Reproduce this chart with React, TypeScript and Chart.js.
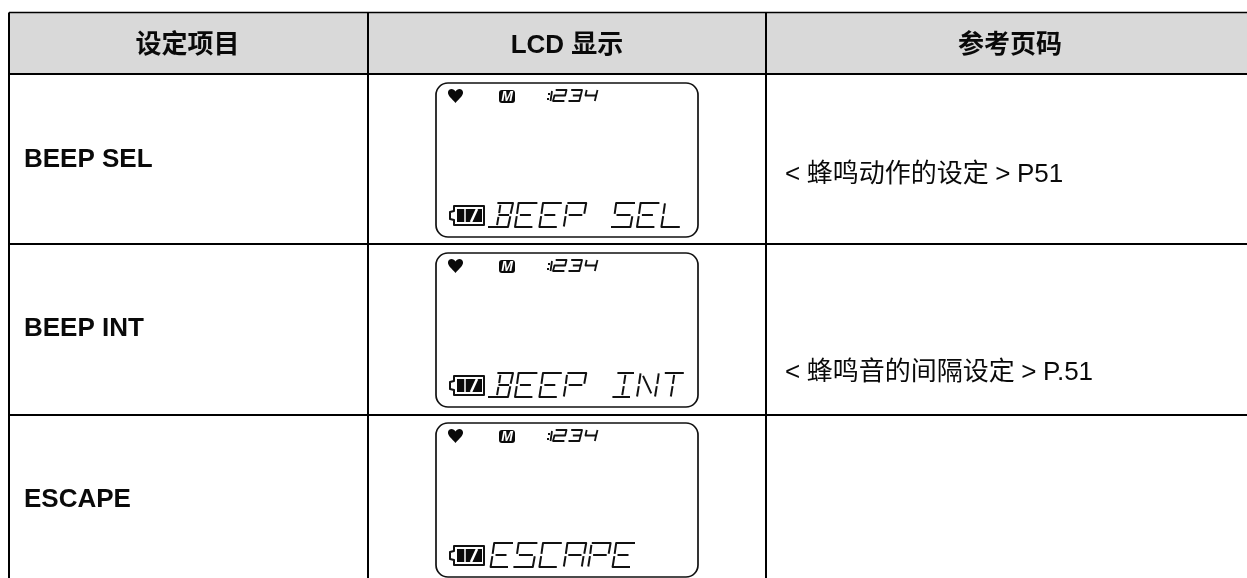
import React, { useEffect, useRef } from "react";
import { Chart, registerables } from "chart.js";

Chart.register(...registerables);

// ---- content ----
const headers = ["设定项目", "LCD 显示", "参考页码"];
const settingItems = ["BEEP SEL", "BEEP INT", "ESCAPE"];
const lcdTexts = ["BEEP SEL", "BEEP INT", "ESCAPE"];
const pageRefs = ["< 蜂鸣动作的设定 > P51", "< 蜂鸣音的间隔设定 > P.51", ""];
const lcdClockDigits = ["2", "3", "4"];

// ---- table geometry in scale units ----
const WIDTH = 1247;
const HEIGHT = 578;
const columnRules = [9, 368, 766];
const rowRules = [74, 244, 415];
const tableTop = 12.5;
const headerCentres = [187.5, 567, 1010];
const headerMiddle = 46;
const itemX = 24;
const itemCentres = [160, 329, 500];
const refX = 785;
const refCentres = [175, 373, 0];
const lcdTops = [83, 253, 423];

// ---- segment font: strokes in a unit box ----
type Stroke = number[];
const SEG: Record<string, Stroke[]> = {
  B: [[0.22, 0, 1, 0, 0.95, 0.45], [0.35, 0.5, 0.88, 0.5], [0.95, 0.55, 0.9, 1, -0.1, 1], [0.38, 0.08, 0.37, 0.42], [0.36, 0.58, 0.34, 0.92]],
  E: [[1, 0, 0.06, 0, 0.05, 0.45], [0.2, 0.5, 0.75, 0.5], [0.05, 0.55, 0.03, 1, 0.9, 1]],
  P: [[0.06, 0, 1, 0, 0.97, 0.45], [0.2, 0.5, 0.88, 0.5], [0.05, 0.08, 0.05, 0.45], [0.05, 0.55, 0.03, 0.98]],
  S: [[1, 0, 0.06, 0, 0.05, 0.45], [0.15, 0.5, 0.85, 0.5], [0.95, 0.55, 0.92, 1, -0.05, 1]],
  L: [[0.06, 0.02, 0.05, 0.45], [0.05, 0.55, 0.03, 1, 0.95, 1]],
  I: [[0.12, 0, 0.95, 0], [0.53, 0.08, 0.52, 0.45], [0.52, 0.55, 0.5, 0.92], [0.02, 1, 0.9, 1]],
  N: [[0.06, 0.02, 0.05, 0.45], [0.05, 0.55, 0.03, 0.98], [0.2, 0.12, 0.72, 0.85], [0.97, 0.02, 0.96, 0.45], [0.95, 0.55, 0.93, 0.98]],
  T: [[0.05, 0, 1, 0], [0.53, 0.08, 0.52, 0.45], [0.52, 0.55, 0.5, 0.98]],
  C: [[1, 0, 0.06, 0, 0.05, 0.45], [0.05, 0.55, 0.03, 1, 0.9, 1]],
  A: [[0.05, 0.45, 0.06, 0, 1, 0, 0.97, 0.45], [0.18, 0.5, 0.84, 0.5], [0.05, 0.55, 0.03, 0.98], [0.95, 0.55, 0.93, 0.98]],
  "2": [[0.1, 0, 1, 0, 0.95, 0.5, 0.06, 0.5, 0, 1, 0.95, 1]],
  "3": [[0.1, 0, 1, 0, 0.95, 0.5, 0.3, 0.5], [0.95, 0.5, 0.9, 1, 0, 1]],
  "4": [[0.1, 0, 0.06, 0.5, 0.95, 0.5], [1, 0, 0.95, 0.5, 0.9, 1]],
};

const bodyFont = "'Liberation Sans','Noto Sans CJK SC',sans-serif";

function segText(ctx: any, sx: (v: number) => number, sy: (v: number) => number, text: string, x: number, y: number, pitch: number, w: number, h: number, slant: number, lw: number) {
  ctx.lineWidth = lw;
  ctx.lineCap = "butt";
  ctx.lineJoin = "round";
  ctx.strokeStyle = "#111";
  [...text].forEach((ch, i) => {
    const strokes = SEG[ch];
    if (!strokes) return;
    const ox = x + i * pitch;
    for (const s of strokes) {
      ctx.beginPath();
      for (let k = 0; k < s.length; k += 2) {
        const px = sx(ox + s[k] * w + (1 - s[k + 1]) * slant);
        const py = sy(y + s[k + 1] * h);
        if (k === 0) ctx.moveTo(px, py);
        else ctx.lineTo(px, py);
      }
      ctx.stroke();
    }
  });
}

function drawLcd(ctx: any, sx: (v: number) => number, sy: (v: number) => number, top: number, label: string) {
  const left = 436;
  const w = 262;
  const h = 154;
  ctx.save();
  // frame
  ctx.strokeStyle = "#111";
  ctx.lineWidth = 1.7;
  ctx.beginPath();
  ctx.roundRect(sx(left), sy(top), w, h, 12);
  ctx.stroke();

  // heart
  const hx = left + 19.5;
  const hy = top + 6;
  ctx.fillStyle = "#0a0a0a";
  ctx.beginPath();
  ctx.moveTo(sx(hx), sy(hy + 14));
  ctx.bezierCurveTo(sx(hx - 3), sy(hy + 10), sx(hx - 8), sy(hy + 7), sx(hx - 7.5), sy(hy + 3));
  ctx.bezierCurveTo(sx(hx - 7), sy(hy - 1), sx(hx - 1.5), sy(hy - 1), sx(hx), sy(hy + 2.5));
  ctx.bezierCurveTo(sx(hx + 1.5), sy(hy - 1), sx(hx + 7), sy(hy - 1), sx(hx + 7.5), sy(hy + 3));
  ctx.bezierCurveTo(sx(hx + 8), sy(hy + 7), sx(hx + 3), sy(hy + 10), sx(hx), sy(hy + 14));
  ctx.fill();

  // M badge
  ctx.beginPath();
  ctx.roundRect(sx(left + 63), sy(top + 7), 16, 13, 3);
  ctx.fill();
  ctx.fillStyle = "#fff";
  ctx.font = `italic bold 14px ${bodyFont}`;
  ctx.textAlign = "center";
  ctx.textBaseline = "middle";
  ctx.fillText("M", sx(left + 71), sy(top + 14));

  // clock
  ctx.fillStyle = "#111";
  ctx.fillRect(sx(left + 112), sy(top + 10), 2, 2);
  ctx.fillRect(sx(left + 111), sy(top + 15), 2, 2);
  ctx.strokeStyle = "#111";
  ctx.lineWidth = 1.8;
  ctx.beginPath();
  ctx.moveTo(sx(left + 116), sy(top + 8));
  ctx.lineTo(sx(left + 114.5), sy(top + 18));
  ctx.stroke();
  segText(ctx, sx, sy, lcdClockDigits.join(""), left + 117, top + 7, 15.5, 12, 11, 1.5, 1.8);

  // battery
  const by = top + 122;
  const bx = left + 13;
  ctx.strokeStyle = "#111";
  ctx.lineWidth = 2;
  ctx.beginPath();
  ctx.moveTo(sx(bx + 5), sy(by + 1));
  ctx.lineTo(sx(bx + 35), sy(by + 1));
  ctx.lineTo(sx(bx + 35), sy(by + 20));
  ctx.lineTo(sx(bx + 5), sy(by + 20));
  ctx.lineTo(sx(bx + 5), sy(by + 15));
  ctx.lineTo(sx(bx + 1), sy(by + 14));
  ctx.lineTo(sx(bx + 1), sy(by + 7));
  ctx.lineTo(sx(bx + 5), sy(by + 6));
  ctx.closePath();
  ctx.stroke();
  ctx.fillStyle = "#0a0a0a";
  ctx.fillRect(sx(bx + 8), sy(by + 4), 25, 13);
  ctx.strokeStyle = "#fff";
  ctx.lineWidth = 1.5;
  ctx.beginPath();
  ctx.moveTo(sx(bx + 16), sy(by + 3));
  ctx.lineTo(sx(bx + 16), sy(by + 18));
  ctx.stroke();
  ctx.lineWidth = 2.6;
  ctx.beginPath();
  ctx.moveTo(sx(bx + 28), sy(by + 4));
  ctx.lineTo(sx(bx + 22), sy(by + 17));
  ctx.stroke();

  // main readout
  segText(ctx, sx, sy, label, left + 54, top + 120, 24.4, 20, 24, 3, 2);
  ctx.restore();
}

const tablePlugin = {
  id: "lcdTable",
  beforeDatasetsDraw(chart: any) {
    const { ctx, scales } = chart;
    const sx = (v: number) => scales.x.getPixelForValue(v);
    const sy = (v: number) => scales.y.getPixelForValue(v);
    ctx.save();
    ctx.fillStyle = "#d9d9d9";
    ctx.fillRect(sx(columnRules[0]), sy(tableTop), sx(WIDTH) - sx(columnRules[0]), sy(rowRules[0]) - sy(tableTop));
    ctx.restore();
  },
  afterDatasetsDraw(chart: any) {
    const { ctx, scales } = chart;
    const sx = (v: number) => scales.x.getPixelForValue(v);
    const sy = (v: number) => scales.y.getPixelForValue(v);
    ctx.save();
    ctx.fillStyle = "#0a0a0a";
    ctx.textBaseline = "middle";
    ctx.textAlign = "center";
    ctx.font = `bold 26px ${bodyFont}`;
    headers.forEach((t, i) => ctx.fillText(t, sx(headerCentres[i]), sy(headerMiddle)));
    ctx.textAlign = "left";
    settingItems.forEach((t, i) => ctx.fillText(t, sx(itemX), sy(itemCentres[i])));
    ctx.font = `26px ${bodyFont}`;
    ctx.wordSpacing = "-0.7px";
    pageRefs.forEach((t, i) => {
      if (t) ctx.fillText(t, sx(refX), sy(refCentres[i]));
    });
    ctx.wordSpacing = "0px";
    lcdTexts.forEach((t, i) => {
      ctx.save();
      ctx.filter = "blur(0.45px)";
      drawLcd(ctx, sx, sy, lcdTops[i], t);
      ctx.restore();
    });
    ctx.restore();
  },
};

const rule = (x1: number, y1: number, x2: number, y2: number, w: number) => ({
  type: "line" as const,
  data: [{ x: x1, y: y1 }, { x: x2, y: y2 }],
  borderColor: "#000",
  borderWidth: w,
  pointRadius: 0,
  clip: false as const,
  parsing: false as const,
});

export default function App() {
  const ref = useRef<HTMLCanvasElement | null>(null);
  useEffect(() => {
    if (!ref.current) return;
    const datasets = [
      rule(columnRules[0], tableTop, WIDTH, tableTop, 1.4),
      ...rowRules.map((y) => rule(columnRules[0] - 1, y, WIDTH, y, 2.2)),
      ...columnRules.map((x) => rule(x, tableTop, x, HEIGHT, 2)),
    ];
    const chart = new Chart(ref.current, {
      type: "line",
      data: { datasets },
      plugins: [tablePlugin],
      options: {
        animation: false,
        responsive: false,
        layout: { padding: 0 },
        plugins: { legend: { display: false }, tooltip: { enabled: false }, title: { display: false } },
        scales: {
          x: { type: "linear", display: false, min: 0, max: WIDTH },
          y: { type: "linear", display: false, min: 0, max: HEIGHT, reverse: true },
        },
      },
    } as any);
    return () => chart.destroy();
  }, []);
  return (
    <div style={{ position: "absolute", left: 0, top: 0, width: WIDTH, height: HEIGHT, background: "#fff" }}>
      <canvas ref={ref} width={WIDTH} height={HEIGHT} style={{ display: "block" }} />
    </div>
  );
}
